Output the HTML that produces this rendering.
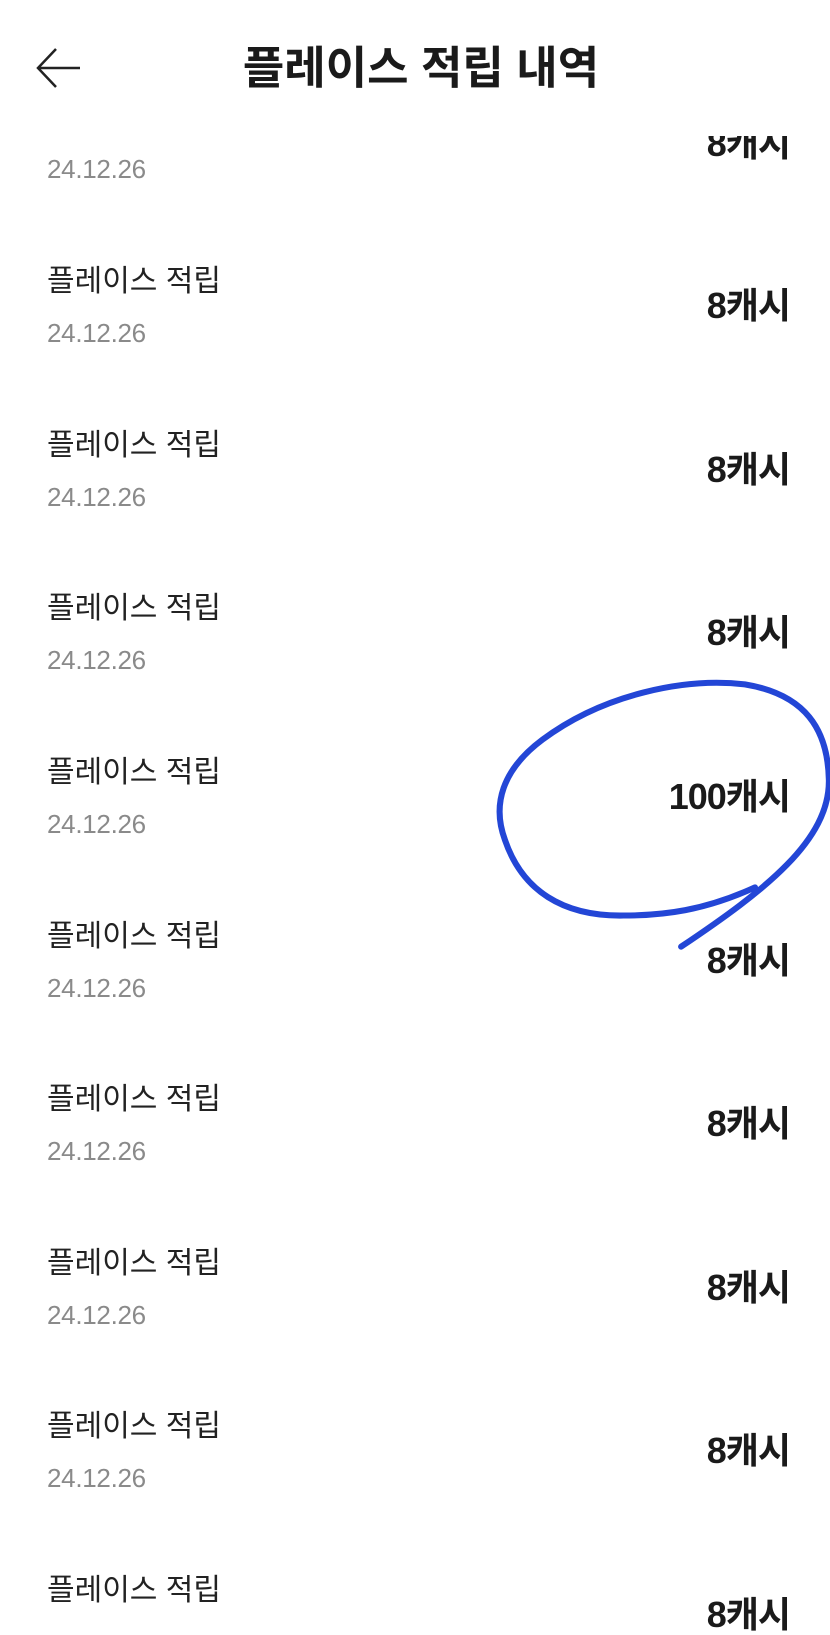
<!DOCTYPE html>
<html><head><meta charset="utf-8"><style>
html,body{margin:0;padding:0;background:#fff;}
body{width:830px;height:1613px;position:relative;overflow:hidden;font-family:"Liberation Sans","Noto Sans CJK KR",sans-serif;}
.t{position:absolute;white-space:nowrap;line-height:1;}
.lab{left:47px;font-size:30px;color:#222;transform:translateY(-50%);}
.dt{left:47px;font-size:26px;color:#8a8a8a;transform:translateY(-50%);letter-spacing:-0.3px;}
.amt{right:40px;font-size:36px;font-weight:bold;color:#1a1a1a;transform:translateY(-50%);letter-spacing:-1px;}
#hdr{position:absolute;left:0;top:0;width:830px;height:136px;background:#fff;z-index:2;}
</style></head><body>
<div id="hdr">
<svg style="position:absolute;left:34px;top:46px" width="50" height="44"><path d="M46 22 H4 M22 3 L4 22 L22 41" stroke="#222" stroke-width="2.5" fill="none"/></svg>
<div class="t" style="left:6px;width:830px;text-align:center;top:68px;transform:translateY(-50%);font-size:45px;font-weight:bold;color:#1a1a1a;">플레이스 적립 내역</div>
</div>
<div class="t amt" style="top:144px">8캐시</div>
<div class="t dt" style="top:169px">24.12.26</div>

<div class="t lab" style="top:282px">플레이스 적립</div><div class="t dt" style="top:333px">24.12.26</div><div class="t amt" style="top:306px">8캐시</div>
<div class="t lab" style="top:446px">플레이스 적립</div><div class="t dt" style="top:497px">24.12.26</div><div class="t amt" style="top:470px">8캐시</div>
<div class="t lab" style="top:609px">플레이스 적립</div><div class="t dt" style="top:660px">24.12.26</div><div class="t amt" style="top:633px">8캐시</div>
<div class="t lab" style="top:773px">플레이스 적립</div><div class="t dt" style="top:824px">24.12.26</div><div class="t amt" style="top:797px">100캐시</div>
<div class="t lab" style="top:937px">플레이스 적립</div><div class="t dt" style="top:988px">24.12.26</div><div class="t amt" style="top:961px">8캐시</div>
<div class="t lab" style="top:1100px">플레이스 적립</div><div class="t dt" style="top:1151px">24.12.26</div><div class="t amt" style="top:1124px">8캐시</div>
<div class="t lab" style="top:1264px">플레이스 적립</div><div class="t dt" style="top:1315px">24.12.26</div><div class="t amt" style="top:1288px">8캐시</div>
<div class="t lab" style="top:1427px">플레이스 적립</div><div class="t dt" style="top:1478px">24.12.26</div><div class="t amt" style="top:1451px">8캐시</div>
<div class="t lab" style="top:1591px">플레이스 적립</div><div class="t amt" style="top:1615px">8캐시</div>

<svg style="position:absolute;left:0;top:0" width="830" height="1613">
<path d="M750 877 C700 900 660 905 620 905 C560 906 520 880 503 830 C490 795 500 760 540 730 C600 685 680 668 740 675 C800 685 822 720 823 770 C824 830 760 880 677 936" transform="translate(-4,6) scale(1.012,1.005)" stroke="#2346d6" stroke-width="6" fill="none" stroke-linecap="round"/>
</svg>
</body></html>
